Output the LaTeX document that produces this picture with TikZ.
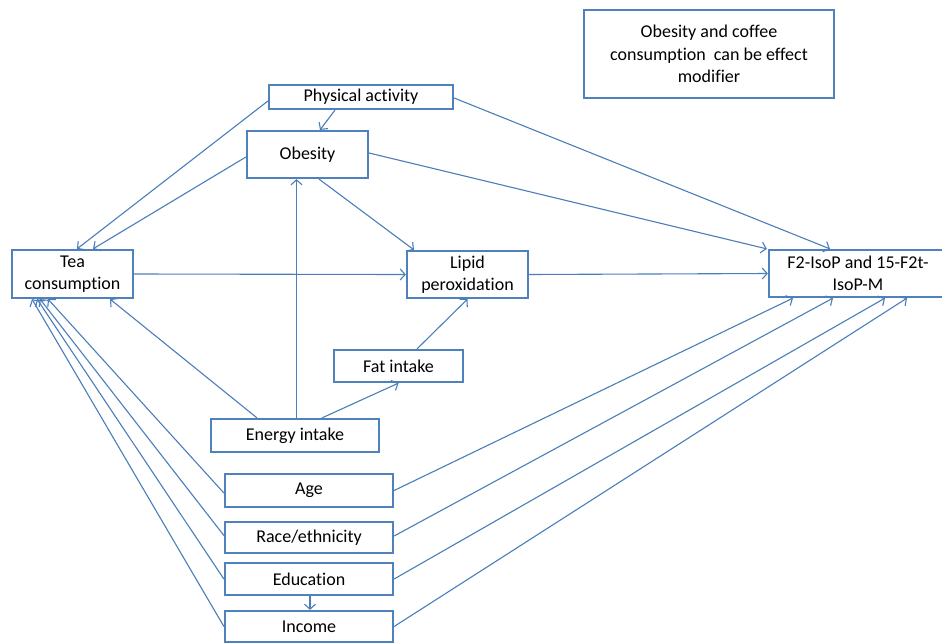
\documentclass[tikz,border=0pt]{standalone}
\usepackage{fontspec}
\setmainfont[Ligatures=NoCommon]{Carlito}
\usetikzlibrary{arrows.meta}
\definecolor{boxblue}{HTML}{4F81BD}
\definecolor{lineblue}{HTML}{4A7EBB}
\begin{document}
\begin{tikzpicture}[x=1pt,y=-1pt,
  box/.style={draw=boxblue,line width=2.2pt,fill=white,inner sep=0pt,align=center,
    font=\fontsize{18}{22.5}\selectfont,text=black},
  conn/.style={draw=lineblue,line width=1.1pt,-{Straight Barb[length=5pt,width=11pt]}},
  plain/.style={draw=lineblue,line width=1.1pt}]
\useasboundingbox (0,0) rectangle (942,643);
\fill[white] (0,0) rectangle (942,643);
% nodes
\node[box,minimum width=250pt,minimum height=88pt] (note) at (709,54)
  {Obesity and coffee\\consumption\ \ can be effect\\modifier};
\node[box,minimum width=184pt,minimum height=24pt] (pa) at (361,97) {Physical activity};
\node[box,minimum width=121pt,minimum height=47pt] (ob) at (307.5,154.5) {Obesity};
\node[box,minimum width=121pt,minimum height=48pt] (tea) at (72.5,274) {Tea\\consumption};
\node[box,minimum width=121pt,minimum height=47pt] (lip) at (467.5,274.5) {Lipid\\peroxidation};
\node[box,minimum width=178pt,minimum height=47pt] (f2) at (858,273.5) {F2-IsoP and 15-F2t-\\IsoP-M};
\node[box,minimum width=129pt,minimum height=32pt] (fat) at (398.5,366) {Fat intake};
\node[box,minimum width=168pt,minimum height=33pt] (en) at (295,435.5) {Energy intake};
\node[box,minimum width=168pt,minimum height=33pt] (age) at (309,490.5) {Age};
\node[box,minimum width=168pt,minimum height=31pt] (race) at (309,537.5) {Race/ethnicity};
\node[box,minimum width=168pt,minimum height=32pt] (edu) at (309,579) {Education};
\node[box,minimum width=168pt,minimum height=31pt] (inc) at (309,626.5) {Income};
% connectors
\draw[conn] ([xshift=-26pt]pa.south) -- ([xshift=12.5pt]ob.north);
\draw[conn] ([yshift=-4pt]pa.west) -- ([xshift=4.5pt]tea.north);
\draw[conn] ([yshift=-2.5pt]ob.west) -- ([xshift=20.5pt]tea.north);
\draw[conn] ([xshift=11.5pt]ob.south) -- ([xshift=-53.5pt]lip.north);
\draw[conn] ([yshift=1.5pt]ob.east) -- ([xshift=-1pt]f2.north west);
\draw[conn] ([yshift=-1pt]pa.east) -- ([xshift=-28pt]f2.north);
\draw[conn] (tea.east) -- (lip.west);
\draw[conn] (lip.east) -- (f2.west);
\draw[conn] ([xshift=1.5pt]en.north) -- ([xshift=1.5pt]en.north |- ob.south);
\draw[conn] ([xshift=-38pt]en.north) -- ([xshift=37.5pt]tea.south);
\draw[conn] ([xshift=27pt]en.north) -- (fat.south);
\draw[conn] ([xshift=18.5pt]fat.north) -- (lip.south);
\draw[conn] ([yshift=-2.5pt]age.west) -- ([xshift=-24.5pt]tea.south);
\draw[conn] ([yshift=2pt]race.west) -- ([xshift=-32.5pt]tea.south);
\draw[conn] (edu.west) -- ([xshift=-35.5pt]tea.south);
\draw[conn] (inc.west) -- ([xshift=-40.5pt]tea.south);
\draw[conn] ([xshift=1pt]edu.south) -- ([xshift=1pt]inc.north);
\draw[conn] (age.east) -- ([xshift=-65pt]f2.south);
\draw[conn] ([yshift=1.5pt]race.east) -- ([xshift=-25pt]f2.south);
\draw[conn] (edu.east) -- ([xshift=27pt]f2.south);
\draw[conn] (inc.east) -- ([xshift=49pt]f2.south);
\end{tikzpicture}
\end{document}
